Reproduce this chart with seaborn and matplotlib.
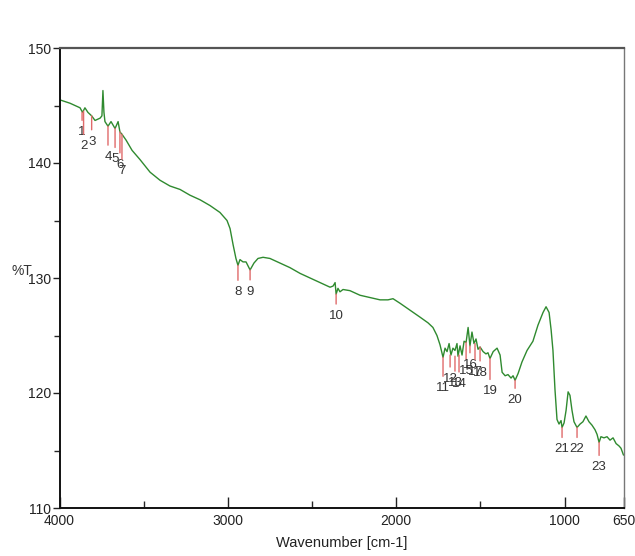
import numpy as np
import pandas as pd
import matplotlib
matplotlib.use("Agg")
import matplotlib.pyplot as plt
import seaborn as sns
from matplotlib.ticker import FixedLocator

# ---------------- data ----------------
wavenumber = [4000, 3938, 3908, 3878, 3863, 3849, 3831, 3809, 3789, 3759, 3748, 3742,
              3736, 3730, 3712, 3694, 3670, 3652, 3641, 3629, 3605, 3569, 3522, 3462,
              3403, 3344, 3284, 3225, 3165, 3106, 3047, 3005, 2987, 2969, 2952, 2940,
              2928, 2910, 2892, 2868, 2845, 2821, 2791, 2750, 2690, 2631, 2571, 2512,
              2453, 2393, 2375, 2363, 2357, 2346, 2334, 2316, 2275, 2215, 2156, 2096,
              2049, 2019, 1977, 1918, 1859, 1811, 1782, 1758, 1740, 1722, 1710, 1698,
              1686, 1675, 1663, 1651, 1639, 1633, 1621, 1609, 1597, 1585, 1573, 1562,
              1550, 1538, 1526, 1514, 1502, 1484, 1467, 1455, 1443, 1424, 1401, 1383,
              1371, 1353, 1336, 1318, 1306, 1294, 1276, 1253, 1223, 1188, 1158, 1128,
              1110, 1092, 1080, 1069, 1057, 1045, 1033, 1021, 1015, 1003, 991, 979,
              968, 956, 944, 926, 908, 891, 873, 855, 837, 819, 807, 795,
              784, 766, 748, 730, 712, 694, 677, 665, 650]
transmittance = [145.5, 145.2, 145.0, 144.8, 144.4, 144.8, 144.4, 144.1, 143.7, 143.9, 144.1, 146.3,
                 144.4, 143.6, 143.2, 143.6, 143.0, 143.6, 142.7, 142.5, 142.0, 141.1, 140.3, 139.2,
                 138.5, 138.0, 137.7, 137.2, 136.8, 136.3, 135.7, 135.0, 134.3, 132.9, 131.7, 131.1,
                 131.6, 131.4, 131.4, 130.7, 131.3, 131.7, 131.8, 131.7, 131.3, 130.9, 130.4, 130.0,
                 129.6, 129.2, 129.3, 129.6, 128.6, 129.1, 128.8, 129.0, 128.9, 128.5, 128.3, 128.1,
                 128.1, 128.2, 127.8, 127.2, 126.6, 126.1, 125.7, 125.0, 124.2, 123.1, 123.9, 123.6,
                 124.3, 123.3, 123.9, 123.7, 124.3, 123.2, 124.1, 123.3, 124.5, 124.4, 125.7, 124.1,
                 125.3, 124.3, 124.7, 123.8, 124.0, 123.6, 123.4, 123.5, 123.0, 123.6, 123.9, 123.3,
                 121.8, 121.5, 121.6, 121.3, 121.5, 121.1, 121.7, 122.7, 123.7, 124.5, 125.9, 127.0,
                 127.5, 127.0, 125.5, 123.7, 120.3, 117.7, 117.3, 117.6, 117.0, 117.4, 118.5, 120.1,
                 119.8, 118.5, 117.5, 117.0, 117.3, 117.5, 118.0, 117.5, 117.2, 116.8, 116.4, 115.7,
                 116.2, 116.1, 116.2, 115.9, 116.1, 115.6, 115.4, 115.2, 114.6]

peak_labels = [str(i) for i in range(1, 24)]
peak_wn = [3866, 3857, 3809, 3712, 3670, 3641, 3629, 2940, 2868, 2357, 1722, 1680,
           1651, 1627, 1585, 1562, 1532, 1502, 1443, 1294, 1015, 926, 795]
peak_T = [144.4, 144.5, 144.1, 143.2, 143.0, 142.7, 142.5, 131.1, 130.7, 128.6, 123.1, 123.3,
          123.2, 123.3, 124.4, 124.1, 124.3, 124.0, 123.0, 121.1, 117.0, 117.0, 115.7]

x_ticks = [4000, 3000, 2000, 1000, 650]
x_minor = [3500, 2500, 1500]
y_ticks = [110, 120, 130, 140, 150]
y_minor = [115, 125, 135, 145]

# label placement (pixels below the peak) – styling only
label_drop = [20, 35, 26, 31, 31, 33, 37, 27, 22, 22, 31, 24, 27, 29, 29, 19, 28, 26, 33, 20, 22, 22, 25]

# ---------------- plot ----------------
sns.set_style("white")
plt.rcParams['font.family'] = ['Liberation Sans', 'DejaVu Sans']

fig = plt.figure(figsize=(6.35, 5.56), dpi=100)
ax = fig.add_axes([59.5 / 635, 1 - 508 / 556, 564 / 635, 460 / 556])

df = pd.DataFrame({"wn": wavenumber, "T": transmittance})
sns.lineplot(data=df, x="wn", y="T", sort=False, ax=ax, color="#2f8a2f", linewidth=1.0)

red = "#e06a6a"
for lab, wn, t, d in zip(peak_labels, peak_wn, peak_T, label_drop):
    ax.annotate(lab, xy=(wn, t), xytext=(0, -d), textcoords="offset pixels",
                ha="center", va="center", fontsize=9.5, color="#333333",
                arrowprops=dict(arrowstyle="-", color=red, lw=1.0,
                                shrinkA=-2, shrinkB=0))

ax.set_xlim(4000, 650)
ax.set_ylim(110, 150)
ax.xaxis.set_major_locator(FixedLocator(x_ticks))
ax.xaxis.set_minor_locator(FixedLocator(x_minor))
ax.yaxis.set_major_locator(FixedLocator(y_ticks))
ax.yaxis.set_minor_locator(FixedLocator(y_minor))
ax.set_xticklabels([str(v) for v in x_ticks])
ax.set_yticklabels([str(v) for v in y_ticks])

ax.tick_params(axis="x", which="major", direction="in", length=8, width=1, pad=4,
               labelsize=10, colors="#222222", bottom=True)
ax.tick_params(axis="x", which="minor", direction="in", length=5, width=1, bottom=True)
ax.tick_params(axis="y", which="major", direction="out", length=5, width=1, pad=1,
               labelsize=10, colors="#222222", left=True)
ax.tick_params(axis="y", which="minor", direction="out", length=4, width=1, left=True)

for side in ["left", "bottom"]:
    ax.spines[side].set_color("#111111")
    ax.spines[side].set_linewidth(1.4)
ax.spines["top"].set_color("#555555")
ax.spines["top"].set_linewidth(1.6)
ax.spines["right"].set_color("#777777")
ax.spines["right"].set_linewidth(1.0)

ax.set_xlabel("Wavenumber [cm-1]", fontsize=10.5, color="#222222", labelpad=6)
ax.set_ylabel("%T", fontsize=10, color="#333333", rotation=0, labelpad=0)
ax.yaxis.set_label_coords(-0.066, 0.5)

fig.savefig("out.png", dpi=100)
